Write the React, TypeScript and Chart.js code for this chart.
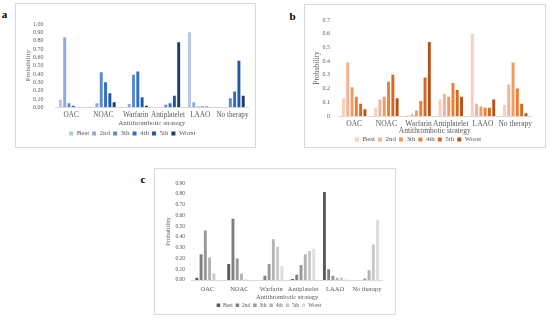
import React, { useEffect, useRef } from 'react';
import { Chart, registerables } from 'chart.js';

Chart.register(...registerables);

const categories = ['OAC', 'NOAC', 'Warfarin', 'Antiplatelet', 'LAAO', 'No therapy'];
const rankLabels = ['Best', '2nd', '3th', '4th', '5th', 'Worst'];
const axisTitle = 'Antithrombotic strategy';
const yTitle = 'Probability';

// Panel a (values per rank, across categories)
const aBest = [0.09, 0.003, 0.004, 0, 0.9, 0];
const a2nd = [0.84, 0.05, 0.04, 0, 0.06, 0];
const a3th = [0.05, 0.42, 0.39, 0.03, 0.01, 0.11];
const a4th = [0.02, 0.3, 0.43, 0.05, 0.01, 0.19];
const a5th = [0, 0.17, 0.12, 0.14, 0.01, 0.56];
const aWorst = [0, 0.06, 0.02, 0.78, 0.005, 0.14];

// Panel b
const bBest = [0.13, 0.06, 0.005, 0.12, 0.6, 0.08];
const b2nd = [0.39, 0.12, 0.015, 0.16, 0.09, 0.23];
const b3th = [0.21, 0.14, 0.04, 0.14, 0.07, 0.39];
const b4th = [0.14, 0.25, 0.11, 0.24, 0.06, 0.2];
const b5th = [0.09, 0.3, 0.28, 0.19, 0.06, 0.09];
const bWorst = [0.05, 0.13, 0.54, 0.14, 0.12, 0.02];

// Panel c
const cBest = [0.02, 0.15, 0, 0.01, 0.82, 0];
const c2nd = [0.24, 0.57, 0.04, 0.05, 0.1, 0];
const c3th = [0.46, 0.2, 0.15, 0.14, 0.04, 0.015];
const c4th = [0.21, 0.06, 0.38, 0.24, 0.02, 0.09];
const c5th = [0.06, 0.005, 0.31, 0.27, 0.02, 0.33];
const cWorst = [0, 0, 0.13, 0.29, 0.005, 0.56];

const aColors = ['#b4c7e7', '#8faadc', '#5b8ad0', '#2f6fc0', '#1f58a6', '#173c78'];
const bColors = ['#fbcdbd', '#f7b18f', '#f39a63', '#ed7d31', '#d8691c', '#b45219'];
const cColors = ['#595959', '#7f7f7f', '#989898', '#b3b3b3', '#c8c8c8', '#dedede'];

const FONT = "'Liberation Serif', 'Times New Roman', serif";
const TXT = '#595959';

type Cfg = {
  frame: { x: number; y: number; w: number; h: number };
  canvas: { x: number; y: number; w: number; h: number };
  plot: { l: number; t: number; r: number; b: number };
  yMax: number;
  yFmt: (v: number) => string;
  tickFont: number;
  catFont: number;
  titleFont: number;
  legendFont: number;
  legendPad: number;
  legendBox: number;
  catY: number;
  titleY: number;
  yLabelRight: number;
  yTitleX: number;
  colors: string[];
  series: number[][];
  letter: string;
  letterPos: [number, number];
};

const panels: Cfg[] = [
  {
    frame: { x: 15, y: 3, w: 241, h: 145 },
    canvas: { x: 16, y: 4, w: 239, h: 143 },
    plot: { l: 55, t: 24, r: 248.6, b: 107.3 },
    yMax: 1,
    yFmt: (v) => v.toFixed(2),
    tickFont: 6,
    catFont: 7.2,
    titleFont: 7,
    legendFont: 7,
    legendPad: 3,
    legendBox: 4,
    catY: 115,
    titleY: 123,
    yLabelRight: 43.5,
    yTitleX: 28.5,
    colors: aColors,
    series: [aBest, a2nd, a3th, a4th, a5th, aWorst],
    letter: 'a',
    letterPos: [4.5, 13.5],
  },
  {
    frame: { x: 304, y: 4, w: 242, h: 144 },
    canvas: { x: 305, y: 5, w: 240, h: 148 },
    plot: { l: 338.1, t: 20, r: 531.3, b: 116 },
    yMax: 0.7,
    yFmt: (v) => (Math.abs(v) < 1e-9 ? '0' : v.toFixed(1)),
    tickFont: 6,
    catFont: 7.5,
    titleFont: 7.5,
    legendFont: 7,
    legendPad: 3,
    legendBox: 4,
    catY: 124,
    titleY: 131,
    yLabelRight: 330,
    yTitleX: 317,
    colors: bColors,
    series: [bBest, b2nd, b3th, b4th, b5th, bWorst],
    letter: 'b',
    letterPos: [292.5, 16],
  },
  {
    frame: { x: 154, y: 168, w: 242, h: 147 },
    canvas: { x: 155, y: 169, w: 240, h: 149 },
    plot: { l: 191.5, t: 183.3, r: 382.9, b: 280 },
    yMax: 0.9,
    yFmt: (v) => v.toFixed(2),
    tickFont: 5.5,
    catFont: 6.5,
    titleFont: 6.5,
    legendFont: 5.5,
    legendPad: 3,
    legendBox: 3.5,
    catY: 289,
    titleY: 297,
    yLabelRight: 185,
    yTitleX: 168,
    colors: cColors,
    series: [cBest, c2nd, c3th, c4th, c5th, cWorst],
    letter: 'c',
    letterPos: [143, 178.5],
  },
];

function Panel({ cfg }: { cfg: Cfg }) {
  const ref = useRef<HTMLCanvasElement | null>(null);
  useEffect(() => {
    if (!ref.current) return;
    const { canvas, plot } = cfg;
    const plotLeftRel = plot.l - canvas.x;
    const plotTopRel = plot.t - canvas.y;
    const plotRightRel = plot.r - canvas.x;
    const plotBottomRel = plot.b - canvas.y;
    const itemH = Math.max(cfg.legendFont, cfg.legendBox);
    const legendH = itemH + cfg.legendPad + 10;
    const xH = canvas.h - legendH - plotBottomRel;
    const titleLh = cfg.titleFont * 1.2;
    const xTitlePadBottom = canvas.h - legendH - titleLh / 2 - (cfg.titleY - canvas.y);
    const yTitlePadTop = cfg.yTitleX - canvas.x - titleLh / 2;
    const catPad = cfg.catY - plot.b - (cfg.catFont * 1.2) / 2;
    const yTickPad = plot.l - cfg.yLabelRight;

    const chart = new Chart(ref.current, {
      type: 'bar',
      data: {
        labels: categories,
        datasets: cfg.series.map((s, i) => ({
          label: rankLabels[i],
          data: s,
          backgroundColor: cfg.colors[i],
          borderWidth: 0,
          barPercentage: 0.68,
          categoryPercentage: 0.8,
        })),
      },
      options: {
        responsive: false,
        animation: false,
        maintainAspectRatio: false,
        layout: {
          padding: { top: plotTopRel, right: canvas.w - plotRightRel, bottom: 0, left: 0 },
        },
        plugins: {
          tooltip: { enabled: false },
          legend: {
            position: 'bottom',
            labels: {
              font: { family: FONT, size: cfg.legendFont },
              color: TXT,
              boxWidth: cfg.legendBox,
              boxHeight: cfg.legendBox,
              padding: cfg.legendPad,
            },
          },
        },
        scales: {
          x: {
            grid: { display: false, drawTicks: false },
            border: { display: true, color: '#d9d9d9', width: 1 },
            ticks: {
              font: { family: FONT, size: cfg.catFont },
              color: TXT,
              padding: catPad,
              autoSkip: false,
              maxRotation: 0,
              minRotation: 0,
            },
            title: {
              display: true,
              text: axisTitle,
              font: { family: FONT, size: cfg.titleFont },
              color: TXT,
              padding: { top: 0, bottom: xTitlePadBottom },
            },
            afterFit: (scale: any) => {
              scale.height = xH;
            },
          },
          y: {
            min: 0,
            max: cfg.yMax,
            grid: { display: false, drawTicks: false },
            border: { display: false },
            ticks: {
              stepSize: 0.1,
              autoSkip: false,
              font: { family: FONT, size: cfg.tickFont },
              color: TXT,
              padding: yTickPad,
              callback: (v: any) => cfg.yFmt(Number(v)),
            },
            title: {
              display: true,
              text: yTitle,
              font: { family: FONT, size: cfg.titleFont },
              color: TXT,
              padding: { top: yTitlePadTop, bottom: 0 },
            },
            afterFit: (scale: any) => {
              scale.width = plotLeftRel;
            },
          },
        },
      },
    });
    return () => chart.destroy();
  }, [cfg]);

  return (
    <>
      <div
        style={{
          position: 'absolute',
          left: cfg.frame.x,
          top: cfg.frame.y,
          width: cfg.frame.w - 2,
          height: cfg.frame.h - 2,
          border: '1px solid #d9d9d9',
        }}
      />
      <canvas
        ref={ref}
        width={cfg.canvas.w}
        height={cfg.canvas.h}
        style={{
          position: 'absolute',
          left: cfg.canvas.x,
          top: cfg.canvas.y,
          width: cfg.canvas.w,
          height: cfg.canvas.h,
        }}
      />
      <div
        style={{
          position: 'absolute',
          left: cfg.letterPos[0] - 5,
          top: cfg.letterPos[1] - 6,
          width: 10,
          height: 12,
          lineHeight: '12px',
          textAlign: 'center',
          fontFamily: FONT,
          fontWeight: 'bold',
          fontSize: 11,
          color: '#000',
        }}
      >
        {cfg.letter}
      </div>
    </>
  );
}

export default function App() {
  return (
    <div
      style={{
        position: 'fixed',
        left: 0,
        top: 0,
        width: 550,
        height: 320,
        background: '#fff',
        overflow: 'hidden',
      }}
    >
      {panels.map((p) => (
        <Panel key={p.letter} cfg={p} />
      ))}
    </div>
  );
}
